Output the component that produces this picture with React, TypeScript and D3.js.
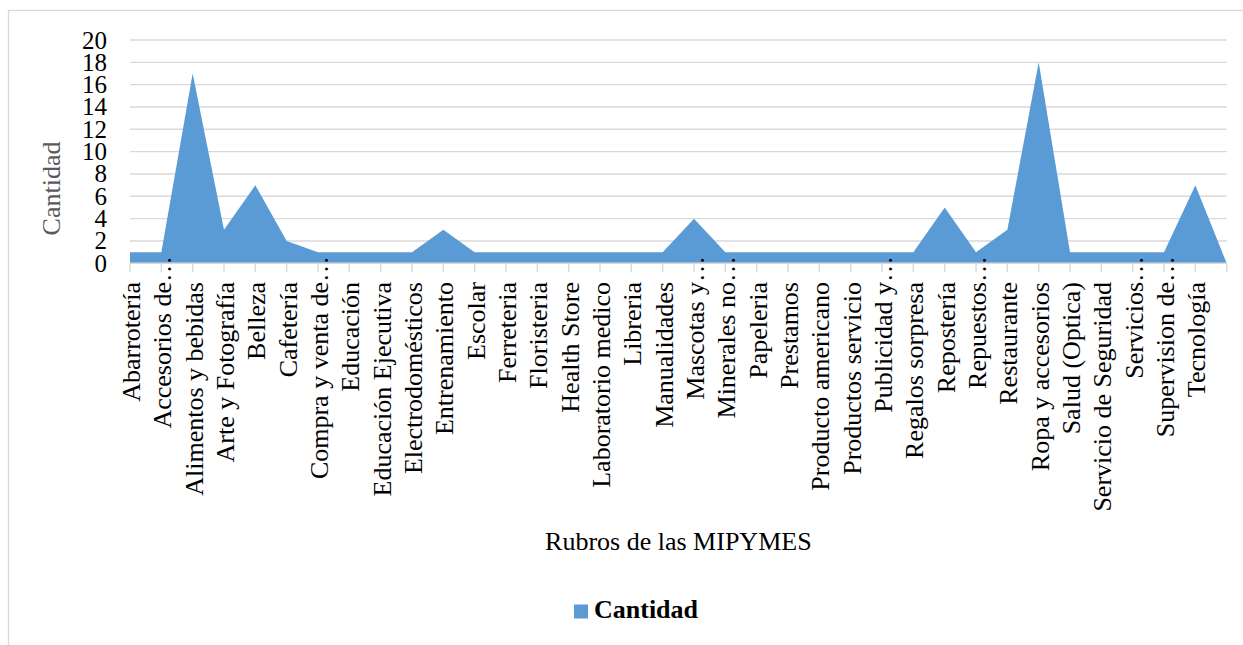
import React from "react";
import * as d3 from "d3";

// Business categories (the last slot is an unlabeled closing point)
const categories: string[] = [
  "Abarrotería", "Accesorios de…", "Alimentos y bebidas", "Arte y Fotografía",
  "Belleza", "Cafetería", "Compra y venta de…", "Educación",
  "Educación Ejecutiva", "Electrodomésticos", "Entrenamiento", "Escolar",
  "Ferreteria", "Floristeria", "Health Store", "Laboratorio medico",
  "Libreria", "Manualidades", "Mascotas y…", "Minerales no…",
  "Papeleria", "Prestamos", "Producto americano", "Productos servicio",
  "Publicidad y…", "Regalos sorpresa", "Repostería", "Repuestos…",
  "Restaurante", "Ropa y accesorios", "Salud (Optica)", "Servicio de Seguridad",
  "Servicios…", "Supervision de…", "Tecnología", "",
];

const cantidad: number[] = [
  1, 1, 17, 3, 7, 2, 1, 1,
  1, 1, 3, 1, 1, 1, 1, 1,
  1, 1, 4, 1, 1, 1, 1, 1,
  1, 1, 5, 1, 3, 18, 1, 1,
  1, 1, 7, 0,
];

const yTicks: number[] = [0, 2, 4, 6, 8, 10, 12, 14, 16, 18, 20];

const seriesName = "Cantidad";
const xTitle = "Rubros de las MIPYMES";
const yTitle = "Cantidad";

const W = 1243;
const H = 645;
const plot = { left: 130, right: 1226.7, top: 40, bottom: 263.3 };
const FONT = '"Liberation Serif", "Times New Roman", "DejaVu Serif", serif';
const FS = 26;
const TICK_FS = 25;
const fill = "#5b9bd5";
const gridColor = "#d9d9d9";

export default function App() {
  const x = d3
    .scalePoint<number>()
    .domain(d3.range(categories.length))
    .range([plot.left, plot.right]);
  const y = d3.scaleLinear().domain([0, 20]).range([plot.bottom, plot.top]);

  const area = d3
    .area<number>()
    .x((_, i) => x(i) as number)
    .y0(y(0))
    .y1((d) => y(d));

  const labelTop = 282;
  const txt = { fontFamily: FONT };

  return (
    <svg
      width={W}
      height={H}
      style={{ position: "absolute", left: 0, top: 0, background: "#fff", fontFamily: FONT }}
    >
      <rect x={8.5} y={10.5} width={1300} height={800} fill="#fff" stroke={gridColor} strokeWidth={1.3} />

      {/* gridlines */}
      {yTicks.map((t) => (
        <line
          key={"g" + t}
          x1={plot.left}
          x2={plot.right}
          y1={y(t)}
          y2={y(t)}
          stroke={gridColor}
          strokeWidth={1.4}
        />
      ))}

      {/* y tick labels */}
      {yTicks.map((t) => (
        <text key={"yt" + t} x={107} y={y(t)} dy="0.34em" textAnchor="end" fontSize={TICK_FS} fill="#000" style={txt}>
          {t}
        </text>
      ))}

      {/* area series */}
      <path d={area(cantidad) || ""} fill={fill} />

      {/* category axis */}
      <line x1={plot.left} x2={plot.right} y1={y(0)} y2={y(0)} stroke={gridColor} strokeWidth={1.4} />
      {categories.map((_, i) => (
        <line
          key={"tk" + i}
          x1={x(i)}
          x2={x(i)}
          y1={y(0)}
          y2={y(0) + 9}
          stroke={gridColor}
          strokeWidth={1.4}
        />
      ))}

      {/* category labels */}
      {categories.map((c, i) => {
        if (!c) return null;
        const cx = (x(i) as number) + 10;
        const truncated = c.endsWith("…");
        const base = truncated ? c.slice(0, -1) : c;
        return (
          <g key={"cl" + i} transform={`translate(${cx},${labelTop}) rotate(-90)`}>
            <text textAnchor="end" fontSize={FS} fill="#000" style={txt}>
              {base}
            </text>
            {truncated && (
              <text textAnchor="start" fontSize={FS} fill="#000" style={txt}>
                …
              </text>
            )}
          </g>
        );
      })}

      {/* axis titles */}
      <text
        transform={`translate(60,188.5) rotate(-90)`}
        textAnchor="middle"
        fontSize={FS}
        fill="#595959"
        style={txt}
      >
        {yTitle}
      </text>
      <text x={(plot.left + plot.right) / 2} y={549.5} textAnchor="middle" fontSize={FS} fill="#000" style={txt}>
        {xTitle}
      </text>

      {/* legend */}
      <rect x={574} y={604.5} width={14} height={14} fill={fill} />
      <text x={594} y={618.3} fontSize={FS} fontWeight="bold" fill="#000" style={txt}>
        {seriesName}
      </text>
    </svg>
  );
}
